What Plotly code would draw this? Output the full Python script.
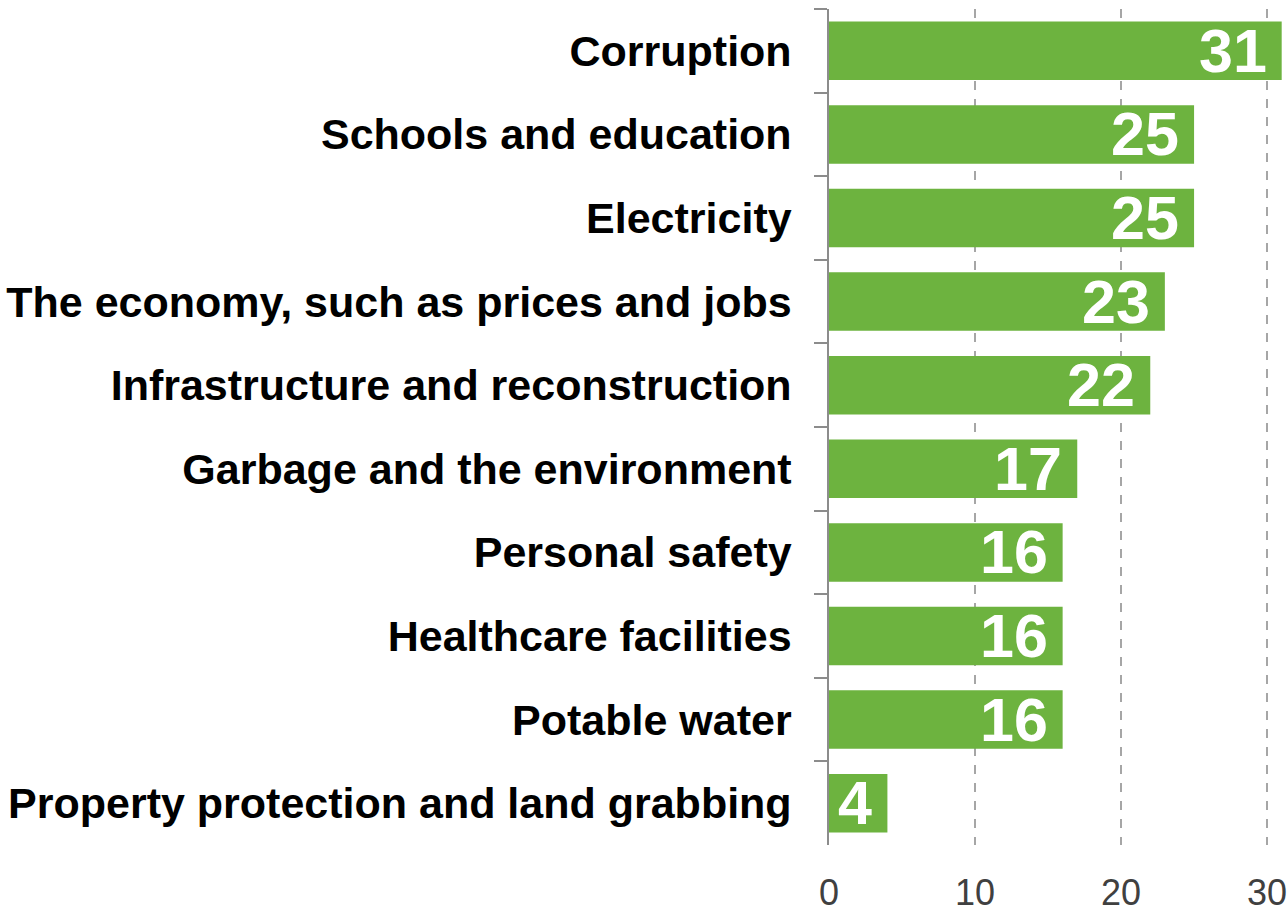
import plotly.graph_objects as go

categories = [
    "Corruption",
    "Schools and education",
    "Electricity",
    "The economy, such as prices and jobs",
    "Infrastructure and reconstruction",
    "Garbage and the environment",
    "Personal safety",
    "Healthcare facilities",
    "Potable water",
    "Property protection and land grabbing",
]
values = [31, 25, 25, 23, 22, 17, 16, 16, 16, 4]
x_ticks = [0, 10, 20, 30]

GREEN = "#6db33f"
FONT = "Liberation Sans, Arial"

fig = go.Figure()
fig.add_trace(go.Bar(
    y=categories,
    x=values,
    orientation="h",
    marker=dict(color=GREEN, line=dict(width=0)),
    width=0.7,
    hoverinfo="skip",
))

for c, v in zip(categories, values):
    fig.add_annotation(
        x=v, y=c, xref="x", yref="y",
        text=str(v), showarrow=False,
        xanchor="right", yanchor="middle", xshift=-13,
        font=dict(family=FONT, size=61, color="white", weight="bold"),
    )

fig.update_layout(
    width=1287, height=913,
    margin=dict(l=829, r=0, t=9, b=61),
    plot_bgcolor="white", paper_bgcolor="white",
    showlegend=False,
)
fig.update_xaxes(
    range=[0, 31.09],
    tickvals=x_ticks,
    ticktext=[str(t) for t in x_ticks],
    showgrid=True, gridcolor="#a6a6a6", gridwidth=1.5, griddash="dash",
    zeroline=False, showline=False, ticks="",
    tickfont=dict(family=FONT, size=36, color="#404040"),
    ticklabelstandoff=23,
    ticklabeloverflow="allow",
)
fig.update_yaxes(
    type="category",
    categoryorder="array", categoryarray=categories,
    autorange="reversed",
    showline=True, linecolor="#8c8c8c", linewidth=1.5,
    ticks="outside", ticklen=13, tickcolor="#8c8c8c", tickwidth=1.5,
    tickson="boundaries",
    showgrid=False, zeroline=False,
    tickfont=dict(family=FONT, size=43, color="black", weight="bold"),
    ticklabelstandoff=27,
)

fig.write_html(
    "out.html",
    config={"displayModeBar": False},
    post_script="document.body.style.margin='0';document.body.style.overflow='hidden';",
)
